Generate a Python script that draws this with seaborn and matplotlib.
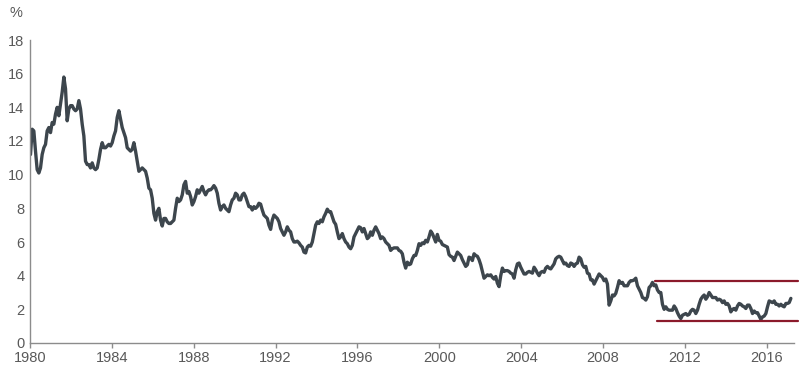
import numpy as np
import pandas as pd
import matplotlib
matplotlib.use("Agg")
import matplotlib.pyplot as plt
import seaborn as sns

# monthly 10-year yield readings (%), Jan 1980 .. Jan 2018
y1980s = [
    11.2, 12.7, 12.6, 11.4, 10.3, 10.1, 10.4, 11.2, 11.6, 11.8, 12.6, 12.8,
    12.5, 13.1, 13.0, 13.6, 14.0, 13.5, 14.2, 14.9, 15.8, 15.1, 13.2, 13.9,
    14.1, 14.1, 13.9, 13.8, 13.9, 14.4, 13.9, 13.0, 12.3, 10.8, 10.6, 10.6,
    10.4, 10.7, 10.4, 10.3, 10.4, 10.9, 11.5, 11.9, 11.6, 11.6, 11.7, 11.8,
    11.7, 11.9, 12.3, 12.6, 13.4, 13.8, 13.3, 12.8, 12.5, 12.2, 11.6, 11.5,
    11.4, 11.5, 11.9, 11.4, 10.8, 10.2, 10.3, 10.4, 10.3, 10.2, 9.8, 9.2,
    9.1, 8.6, 7.7, 7.3, 7.8, 8.0, 7.3, 6.95, 7.4, 7.4, 7.2, 7.1,
    7.1, 7.2, 7.3, 8.0, 8.6, 8.4, 8.5, 8.8, 9.4, 9.6, 8.9, 9.0,
    8.7, 8.2, 8.4, 8.7, 9.1, 8.9, 9.1, 9.3, 9.0, 8.8, 9.0, 9.1,
    9.1, 9.2, 9.35, 9.2, 8.9, 8.3, 7.9, 8.1, 8.2, 8.0, 7.9, 7.8,
]
y1990s = [
    8.2, 8.5, 8.6, 8.9, 8.8, 8.5, 8.5, 8.8, 8.9, 8.7, 8.4, 8.1,
    8.1, 7.9, 8.1, 8.0, 8.1, 8.3, 8.25, 7.9, 7.6, 7.5, 7.4, 7.0,
    6.75, 7.3, 7.6, 7.5, 7.4, 7.2, 6.8, 6.6, 6.4, 6.6, 6.9, 6.7,
    6.6, 6.2, 6.0, 6.0, 6.05, 5.95, 5.8, 5.7, 5.4, 5.35, 5.7, 5.8,
    5.75, 6.0, 6.5, 7.0, 7.2, 7.1, 7.3, 7.2, 7.5, 7.7, 7.95, 7.8,
    7.8, 7.5, 7.2, 7.05, 6.6, 6.2, 6.3, 6.5, 6.2, 6.0, 5.9, 5.7,
    5.6, 5.8, 6.3, 6.5, 6.7, 6.9, 6.85, 6.6, 6.8, 6.5, 6.2, 6.3,
    6.6, 6.4, 6.7, 6.9, 6.7, 6.5, 6.2, 6.3, 6.2, 6.0, 5.9, 5.8,
    5.5, 5.6, 5.65, 5.65, 5.65, 5.5, 5.45, 5.3, 4.8, 4.45, 4.8, 4.65,
    4.7, 5.0, 5.2, 5.2, 5.5, 5.9, 5.8, 5.95, 5.9, 6.1, 6.0, 6.3,
]
y2000s = [
    6.65, 6.5, 6.25, 6.0, 6.45, 6.1, 6.05, 5.85, 5.8, 5.75, 5.7, 5.25,
    5.15, 5.1, 4.9, 5.15, 5.4, 5.3, 5.2, 4.95, 4.75, 4.55, 4.65, 5.1,
    5.05, 4.9, 5.3, 5.2, 5.15, 4.95, 4.65, 4.25, 3.85, 3.95, 4.05, 4.0,
    4.05, 3.9, 3.8, 3.95, 3.55, 3.35, 4.0, 4.45, 4.25, 4.3, 4.3, 4.25,
    4.15, 4.1, 3.85, 4.35, 4.7, 4.75, 4.5, 4.3, 4.1, 4.1, 4.2, 4.25,
    4.2, 4.15, 4.5, 4.35, 4.15, 4.0, 4.2, 4.25, 4.2, 4.45, 4.55, 4.45,
    4.4, 4.55, 4.7, 5.0, 5.1, 5.15, 5.1, 4.9, 4.7, 4.75, 4.6, 4.55,
    4.75, 4.7, 4.55, 4.7, 4.75, 5.1, 5.0, 4.65, 4.5, 4.55, 4.15, 4.1,
    3.75, 3.75, 3.5, 3.7, 3.9, 4.1, 4.0, 3.9, 3.7, 3.8, 3.5, 2.25,
    2.5, 2.85, 2.8, 2.95, 3.3, 3.7, 3.55, 3.6, 3.4, 3.4, 3.4, 3.6,
]
y2010s = [
    3.7, 3.7, 3.75, 3.85, 3.4, 3.2, 3.0, 2.7, 2.65, 2.55, 2.75, 3.3,
    3.4, 3.6, 3.4, 3.45, 3.15, 3.0, 3.0, 2.3, 2.0, 2.15, 2.0, 1.95,
    1.95, 1.95, 2.2, 2.05, 1.8, 1.6, 1.45, 1.65, 1.7, 1.75, 1.65, 1.7,
    1.9, 2.0, 1.95, 1.75, 1.95, 2.3, 2.6, 2.75, 2.85, 2.6, 2.75, 3.0,
    2.85, 2.7, 2.7, 2.7, 2.55, 2.6, 2.55, 2.4, 2.5, 2.3, 2.35, 2.2,
    1.85, 2.0, 2.05, 1.95, 2.2, 2.35, 2.3, 2.2, 2.15, 2.05, 2.25, 2.25,
    2.05, 1.75, 1.9, 1.8, 1.8, 1.6, 1.4, 1.55, 1.6, 1.75, 2.15, 2.5,
    2.45, 2.4, 2.5, 2.3, 2.3, 2.2, 2.3, 2.2, 2.15, 2.35, 2.35, 2.4,
    2.65,
]

tick_labels = ["1980", "1984", "1988", "1992", "1996", "2000", "2004", "2008", "2012", "2016"]
y_ticks = [0, 2, 4, 6, 8, 10, 12, 14, 16, 18]

# range band drawn from early 2011 on
band_low = 1.33
band_high = 3.7
band_start = "2011-02"

yields = y1980s + y1990s + y2000s + y2010s
dates = pd.date_range("1980-01", periods=len(yields), freq="MS")
df = pd.DataFrame({"date": dates, "pos": np.arange(len(yields)), "yield": yields})

# category-style axis: labels every 49.1 periods as in the original
tick_pos = -0.3 + 49.1 * np.arange(len(tick_labels))

sns.set_style("ticks")
plt.rcParams["font.family"] = ["Liberation Sans", "DejaVu Sans"]

fig = plt.figure(figsize=(7.99, 3.71), dpi=100)
ax = fig.add_axes([30 / 799, 28 / 371, 763.7 / 799, 303 / 371])

sns.lineplot(data=df, x="pos", y="yield", color="#3d464d", linewidth=2.4, ax=ax)

start = df.loc[df["date"] == band_start, "pos"].iloc[0] + 1.5
x_end = 460.5
ax.plot([start, x_end], [band_high, band_high], color="#8b1a2b", lw=1.6, clip_on=False)
ax.plot([start + 1.4, x_end], [band_low, band_low], color="#8b1a2b", lw=1.6, clip_on=False)

ax.set_xlim(-0.3, 457.7)
ax.set_ylim(0, 18)
ax.set_xticks(tick_pos)
ax.set_xticklabels(tick_labels)
ax.set_yticks(y_ticks)
ax.set_xlabel("")
ax.set_ylabel("")

sns.despine(ax=ax)
for s in ["left", "bottom"]:
    ax.spines[s].set_color("#8c8c8c")
    ax.spines[s].set_linewidth(1.0)
ax.tick_params(axis="x", length=3.5, width=1.0, color="#8c8c8c", pad=2.5,
               labelsize=10.5, labelcolor="#595959")
ax.tick_params(axis="y", length=0, pad=4, labelsize=10.5, labelcolor="#595959")

fig.text(10 / 799, 1 - 13 / 371, "%", fontsize=10.5, color="#595959", va="center")

fig.savefig("out.png", dpi=100)
